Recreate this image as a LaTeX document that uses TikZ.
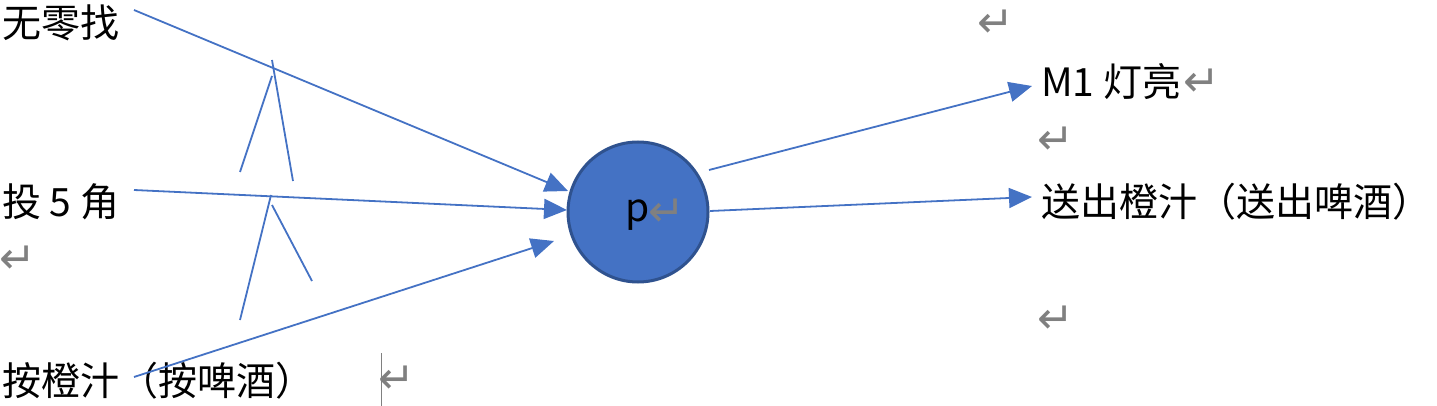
\documentclass[tikz,border=0pt]{standalone}
\usepackage{fontspec}
\setmainfont{Noto Sans CJK SC}
\newfontfamily\retfont{DejaVu Sans}
\usetikzlibrary{arrows.meta}
\definecolor{lineblue}{HTML}{4472C4}
\definecolor{circborder}{HTML}{2F528F}
\definecolor{markgray}{HTML}{808080}
\tikzset{
  lbl/.style={anchor=base west, inner sep=0pt, font=\fontsize{39}{42}\selectfont},
  ret/.style={inner sep=0pt, xshift=5pt, yshift=-3pt, text=markgray, font=\retfont\fontsize{44}{46}\selectfont},
  conn/.style={draw=lineblue, line width=1.8pt},
  arr/.style={conn, -{Triangle[length=23pt,width=20pt]}},
}
\begin{document}
\begin{tikzpicture}[x=1pt,y=-1pt]
\useasboundingbox (0,0) rectangle (1437,406);
% labels
\node[lbl] (in1) at (2,38) {无零找};
\node[lbl] (in2) at (2,216) {投 5 角};
\node[lbl] (in3) at (2,395) {按橙汁（按啤酒）};
\node[lbl] (out1) at (1041,97) {M1 灯亮};
\node[lbl] (out2) at (1041,216) {送出橙汁（送出啤酒）};
% paragraph marks
\node[ret] (r1) at (991,21) {↵};
\node[ret] (r2) at (1197,80) {↵};
\node[ret] (r3) at (1051,138) {↵};
\node[ret] (r4) at (1051,317) {↵};
\node[ret] (r5) at (13,257) {↵};
\node[ret] (r6) at (392,377) {↵};
\coordinate (cb1) at (381.5,353);
\coordinate (cb2) at (381.5,406);
\draw[markgray, line width=1pt] (cb1) -- (cb2);
% circle
\node[circle, fill=lineblue, draw=circborder, line width=3pt, minimum size=140pt, inner sep=0pt] (p) at (638,212) {};
\node[anchor=base, inner sep=0pt, font=\fontsize{39}{42}\selectfont] (pl) at (638,222) {p};
\node[ret] (r7) at (662,210) {↵};
% arrow end points
\coordinate (s1) at (134,10);
\coordinate (e1) at (568,191);
\coordinate (s2) at (134,190);
\coordinate (e2) at (567,210);
\coordinate (s3) at (134,377);
\coordinate (e3) at (554,241);
\coordinate (s4) at (709,170);
\coordinate (e4) at (1032,86);
\coordinate (s5) at (710,211);
\coordinate (e5) at (1032,197);
\draw[arr] (s1) -- (e1);
\draw[arr] (s2) -- (e2);
\draw[arr] (s3) -- (e3);
\draw[arr] (s4) -- (e4);
\draw[arr] (s5) -- (e5);
% small strokes
\coordinate (a1) at (272,60);
\coordinate (a2) at (293,181);
\coordinate (b1) at (240,172);
\coordinate (b2) at (272,76);
\coordinate (c1) at (271,195);
\coordinate (c2) at (240,320);
\coordinate (d1) at (272,205);
\coordinate (d2) at (312,281);
\draw[conn] (a1) -- (a2);
\draw[conn] (b1) -- (b2);
\draw[conn] (c1) -- (c2);
\draw[conn] (d1) -- (d2);
\end{tikzpicture}
\end{document}
